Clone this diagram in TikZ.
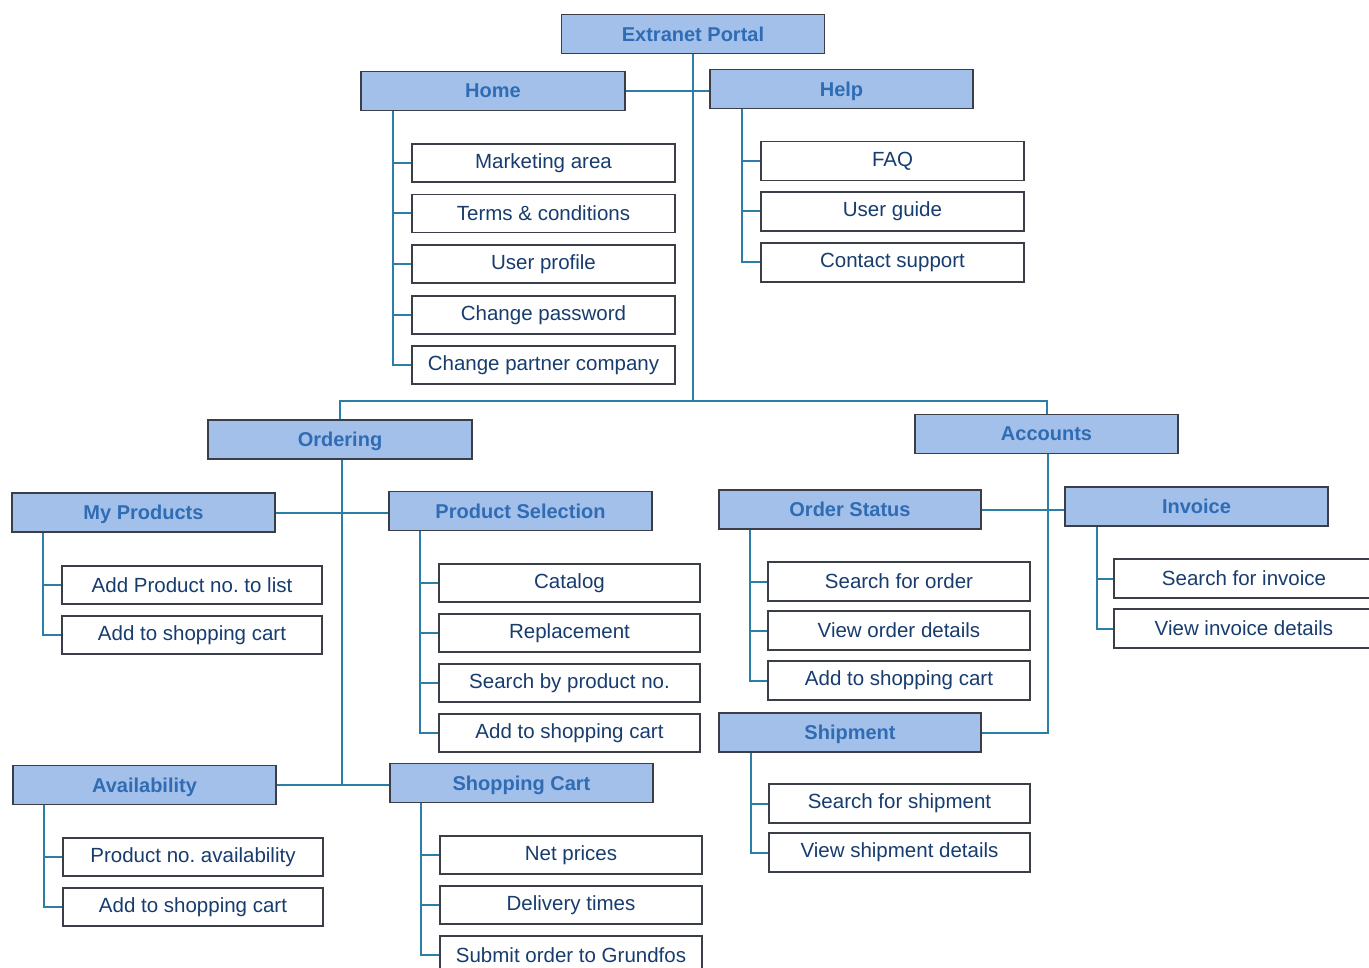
\documentclass[tikz,border=0pt]{standalone}
\usepackage{fontspec}
\setmainfont{Liberation Sans}
\frenchspacing
\definecolor{hdrfill}{HTML}{A3C0EA}
\definecolor{hdrtext}{HTML}{2F6CB4}
\definecolor{itemtext}{HTML}{173C6E}
\definecolor{boxline}{HTML}{3A3F47}
\definecolor{connline}{HTML}{2A7EA8}
\tikzset{
  hdr/.style={draw=boxline, line width=1.6pt, fill=hdrfill, inner sep=0pt,
    minimum width=263pt, minimum height=39pt, text depth=0pt,
    font=\fontsize{20}{22}\selectfont\bfseries, text=hdrtext},
  item/.style={draw=boxline, line width=1.3pt, fill=white, inner sep=0pt,
    minimum height=38pt,
    font=\fontsize{20.5}{22}\selectfont, text=itemtext},
  conn/.style={draw=connline, line width=2pt}
}
\begin{document}
\begin{tikzpicture}[x=1pt,y=-1pt]
\clip (0,0) rectangle (1369,968);
\fill[white] (0,0) rectangle (1369,968);

% top level
\node[hdr] (portal) at (693,34) {Extranet Portal};
\node[hdr, minimum width=264pt] (home) at (493,91) {Home};
\node[hdr] (help) at (841.5,89) {Help};

% Home entries
\node[item, minimum width=263pt] (mkt)   at (543.5,163) {Marketing area};
\node[item, minimum width=263pt] (terms) at (543.5,213.5) {Terms \& conditions};
\node[item, minimum width=263pt] (uprof) at (543.5,264) {User profile};
\node[item, minimum width=263pt] (cpw)   at (543.5,315) {Change password};
\node[item, minimum width=263pt] (cpc)   at (543.5,365) {Change partner company};

% Help entries
\node[item, minimum width=263pt, minimum height=39pt] (faq)   at (892.5,161) {FAQ};
\node[item, minimum width=263pt, minimum height=39pt] (guide) at (892.5,211.5) {User guide};
\node[item, minimum width=263pt, minimum height=39pt] (supp)  at (892.5,262.5) {Contact support};

% second level
\node[hdr, minimum width=264pt] (ordering) at (340,439.5) {Ordering};
\node[hdr] (accounts) at (1046.5,434) {Accounts};

% Ordering branches
\node[hdr] (myprod)  at (143.5,512.5) {My Products};
\node[hdr] (prodsel) at (520.5,511) {Product Selection};
\node[hdr] (avail)   at (144.5,785) {Availability};
\node[hdr] (shop)    at (521.5,783) {Shopping Cart};

\node[item, minimum width=260pt] (addlist) at (192,585) {Add Product no. to list};
\node[item, minimum width=260pt] (mpcart)  at (192,635) {Add to shopping cart};

\node[item, minimum width=261pt] (catalog) at (569.5,583) {Catalog};
\node[item, minimum width=261pt] (replace) at (569.5,633) {Replacement};
\node[item, minimum width=261pt] (search)  at (569.5,683) {Search by product no.};
\node[item, minimum width=261pt] (pscart)  at (569.5,733) {Add to shopping cart};

\node[item, minimum width=260pt] (pavail)  at (193,857) {Product no. availability};
\node[item, minimum width=260pt] (avcart)  at (193,907) {Add to shopping cart};

\node[item, minimum width=262pt] (netp)    at (571,855) {Net prices};
\node[item, minimum width=262pt] (deliv)   at (571,905) {Delivery times};
\node[item, minimum width=262pt] (submit)  at (571,955) {Submit order to Grundfos};

% Accounts branches
\node[hdr, minimum width=262pt] (ordstat) at (850,509.5) {Order Status};
\node[hdr] (invoice) at (1196.5,506.5) {Invoice};
\node[hdr, minimum width=262pt] (ship) at (850,732.5) {Shipment};

\node[item, minimum width=262pt, minimum height=39pt] (sorder) at (899,581.5) {Search for order};
\node[item, minimum width=262pt, minimum height=39pt] (vorder) at (899,630.5) {View order details};
\node[item, minimum width=262pt, minimum height=39pt] (oscart) at (899,680.5) {Add to shopping cart};

\node[item, minimum width=260pt, minimum height=39pt] (sinv) at (1244,578.5) {Search for invoice};
\node[item, minimum width=260pt, minimum height=39pt] (vinv) at (1244,628.5) {View invoice details};

\node[item, minimum width=261pt, minimum height=39pt] (sship) at (899.5,803.5) {Search for shipment};
\node[item, minimum width=261pt, minimum height=39pt] (vship) at (899.5,852.5) {View shipment details};

% trunk
\coordinate (hub) at (693,401);
\draw[conn] (portal.south) -- (hub);
\draw[conn] (home.east) -- (home.east -| help.west);
\draw[conn] (ordering.north) |- (hub) -| (accounts.north);

% Home list
\draw[conn] ([xshift=33pt]home.south west) |- (cpc.west);
\foreach \n in {mkt,terms,uprof,cpw} \draw[conn] (\n.west) -- ++(-18pt,0);
% Help list
\draw[conn] ([xshift=33pt]help.south west) |- (supp.west);
\foreach \n in {faq,guide} \draw[conn] (\n.west) -- ++(-17pt,0);

% Ordering
\draw[conn] (ordering.south) ++(2pt,0) coordinate (ordtop) -- (ordtop |- avail.east);
\draw[conn] (myprod.east) -- (myprod.east -| prodsel.west);
\draw[conn] (avail.east) -- (avail.east -| shop.west);

\draw[conn] ([xshift=32pt]myprod.south west) |- (mpcart.west);
\draw[conn] (addlist.west) -- ++(-18pt,0);
\draw[conn] ([xshift=32pt]prodsel.south west) |- (pscart.west);
\foreach \n in {catalog,replace,search} \draw[conn] (\n.west) -- ++(-18pt,0);
\draw[conn] ([xshift=32pt]avail.south west) |- (avcart.west);
\draw[conn] (pavail.west) -- ++(-18pt,0);
\draw[conn] ([xshift=32pt]shop.south west) |- (submit.west);
\foreach \n in {netp,deliv} \draw[conn] (\n.west) -- ++(-18pt,0);

% Accounts
\draw[conn] (accounts.south) ++(1.5pt,0) coordinate (acctop) -- (acctop |- ship.east) -- (ship.east);
\draw[conn] (ordstat.east) -- (ordstat.east -| invoice.west);
\draw[conn] ([xshift=32pt]ordstat.south west) |- (oscart.west);
\foreach \n in {sorder,vorder} \draw[conn] (\n.west) -- ++(-17pt,0);
\draw[conn] ([xshift=33pt]invoice.south west) |- (vinv.west);
\draw[conn] (sinv.west) -- ++(-16pt,0);
\draw[conn] ([xshift=33pt]ship.south west) |- (vship.west);
\draw[conn] (sship.west) -- ++(-17pt,0);
\end{tikzpicture}
\end{document}
